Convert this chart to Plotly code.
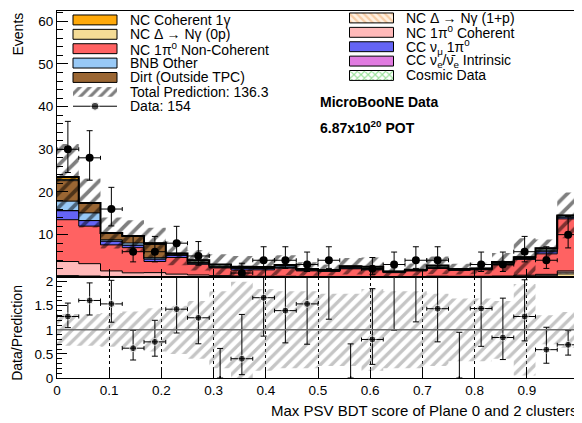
import plotly.graph_objects as go
from plotly.subplots import make_subplots

# 24 bins of the BDT score
n_bins = 24
edges = [i / n_bins for i in range(n_bins + 1)]
centers = [(edges[i] + edges[i + 1]) / 2 for i in range(n_bins)]
half_w = [0.5 / n_bins] * n_bins

# stacked MC components (events per bin), bottom to top
nc_delta_0p = [0.25, 0.2, 0.15, 0.1, 0.1, 0.05, 0.05, 0.05, 0, 0, 0, 0,
               0, 0, 0, 0, 0.04, 0.08, 0.09, 0.1, 0.1, 0.2, 0.3, 0.8]
nc_delta_1p = [0.15, 0.1, 0.05, 0.05, 0, 0, 0, 0, 0, 0, 0, 0,
               0, 0, 0, 0, 0, 0, 0, 0, 0, 0.1, 0.2, 0.4]
nc_pi0_coh = [3.3, 2.9, 1.3, 0.9, 1.0, 0.7, 0.5, 0.35, 0.3, 0.25, 0.25, 0.2,
              0.2, 0.2, 0.15, 0.15, 0.15, 0.2, 0.15, 0.15, 0.2, 0.2, 0.2, 0.3]
nc_pi0_noncoh = [9.8, 8.8, 6.1, 5.9, 2.6, 3.9, 2.5, 1.8, 1.4, 1.5, 1.9, 1.3,
                 1.2, 1.8, 1.6, 0.95, 1.3, 1.8, 1.4, 1.5, 2.6, 3.7, 4.8, 12.2]
cc_numu_pi0 = [2.1, 1.3, 0.9, 0.6, 0.6, 0.5, 0.25, 0.15, 0.4, 0.3, 0.2, 0.15,
               0, 0.2, 0.15, 0.1, 0.1, 0.15, 0.1, 0.13, 0.2, 0.2, 0.5, 0.4]
cc_nue = [0.05, 0, 0, 0, 0, 0, 0, 0, 0, 0, 0, 0,
          0, 0, 0, 0, 0, 0, 0, 0, 0, 0, 0, 0]
bnb_other = [2.2, 1.8, 0.3, 0.5, 0.3, 0.25, 0.2, 0.2, 0.2, 0.2, 0.3, 0.3,
             0.31, 0.2, 0.2, 0.18, 0.2, 0.2, 0.2, 0.2, 0.2, 0.3, 0.4, 0.4]
dirt = [4.8, 2.3, 1.6, 1.6, 3.1, 0.2, 0.1, 0.05, 0, 0, 0.21, 0,
        0, 0, 0, 0, 0, 0, 0, 0, 0, 0, 0, 0]
cosmic = [0.3, 0, 0, 0.05, 0.3, 0, 0.4, 0.4, 0.2, 0.15, 0, 0,
          0, 0.2, 0.4, 0, 0, 0.35, 0, 0, 0.27, 0, 0.4, 0]
nc_coh_1g = [0.55, 0, 0, 0, 0, 0, 0, 0, 0, 0, 0, 0,
             0, 0, 0, 0, 0, 0, 0, 0, 0, 0, 0, 0]

# relative uncertainty of the total prediction
mc_rel_err = [0.33, 0.33, 0.35, 0.38, 0.45, 0.5, 0.6, 0.8, 1.0, 0.85, 0.8, 0.8,
              0.75, 0.75, 0.85, 0.8, 0.8, 0.75, 0.65, 0.65, 0.6, 0.95, 0.3, 0.37]

# observed data counts
data = [30, 28, 16, 6, 6, 8, 5, 0, 1, 4, 4, 3,
        4, 0, 2, 3, 4, 4, 0, 3, 3, 6, 4, 10]

# Garwood 68% Poisson intervals (down, up)
poisson = {0: (0.0, 1.841), 1: (0.827, 2.299), 2: (1.292, 2.638), 3: (1.633, 2.918),
           4: (1.914, 3.162), 5: (2.159, 3.382), 6: (2.379, 3.583), 8: (2.768, 3.945),
           10: (3.108, 4.266), 16: (3.957, 5.083), 28: (5.246, 6.354), 30: (5.437, 6.543)}

FONT = "Liberation Sans"

stack = [
    (nc_delta_0p, "#F5DC96", None),
    (nc_delta_1p, "#FFF1E2", dict(shape="\\", fgcolor="#F0A868", bgcolor="#FFF1E2", size=5, solidity=0.45)),
    (nc_pi0_coh, "#FFB9B9", None),
    (nc_pi0_noncoh, "#FF6262", None),
    (cc_numu_pi0, "#6464F5", None),
    (cc_nue, "#E07BE0", None),
    (bnb_other, "#98C9F6", None),
    (dirt, "#9A6633", None),
    (cosmic, "#FFFFFF", dict(shape="x", fgcolor="#33C433", bgcolor="#FFFFFF", size=5, solidity=0.4)),
    (nc_coh_1g, "#FFA90A", None),
]

fig = make_subplots(rows=2, cols=1, shared_xaxes=True, vertical_spacing=0)

cum = [0.0] * n_bins
for i, (vals, color, pattern) in enumerate(stack):
    cum = [c + v for c, v in zip(cum, vals)]
    kw = dict(fillpattern=pattern) if pattern else {}
    fig.add_trace(go.Scatter(
        x=edges, y=cum + [cum[-1]], mode="lines",
        line=dict(color="black", width=1, shape="hv"),
        fill="tozeroy" if i == 0 else "tonexty", fillcolor=color,
        showlegend=False, hoverinfo="skip", **kw), row=1, col=1)

total = cum
err = [t * r for t, r in zip(total, mc_rel_err)]
lo = [max(t - e, 0) for t, e in zip(total, err)]
hi = [t + e for t, e in zip(total, err)]
hatch_black = dict(shape="/", fgcolor="black", bgcolor="rgba(0,0,0,0)", size=10, solidity=0.38)
fig.add_trace(go.Scatter(x=edges, y=lo + [lo[-1]], mode="lines", line=dict(width=0, shape="hv"),
                         showlegend=False, hoverinfo="skip"), row=1, col=1)
fig.add_trace(go.Scatter(x=edges, y=hi + [hi[-1]], mode="lines", line=dict(width=0, shape="hv"),
                         fill="tonexty", fillcolor="rgba(0,0,0,0)", fillpattern=hatch_black,
                         showlegend=False, hoverinfo="skip"), row=1, col=1)
fig.add_trace(go.Scatter(x=edges, y=total + [total[-1]], mode="lines",
                         line=dict(color="black", width=2, shape="hv"),
                         showlegend=False, hoverinfo="skip"), row=1, col=1)

# data points (skip empty bins in the top panel)
dx = [c for c, d in zip(centers, data) if d > 0]
dy = [d for d in data if d > 0]
fig.add_trace(go.Scatter(
    x=dx, y=dy, mode="markers", marker=dict(color="black", size=8),
    error_x=dict(type="data", array=half_w[:len(dx)], color="black", thickness=1, width=2),
    error_y=dict(type="data", symmetric=False, array=[poisson[d][1] for d in dy],
                 arrayminus=[poisson[d][0] for d in dy], color="black", thickness=1, width=3),
    showlegend=False), row=1, col=1)

# ratio panel
rlo = [1 - r for r in mc_rel_err]
rhi = [1 + r for r in mc_rel_err]
hatch_grey = dict(shape="/", fgcolor="#8C8C8C", bgcolor="rgba(0,0,0,0)", size=8, solidity=0.42)
fig.add_trace(go.Scatter(x=edges, y=rlo + [rlo[-1]], mode="lines", line=dict(width=0, shape="hv"),
                         showlegend=False, hoverinfo="skip"), row=2, col=1)
fig.add_trace(go.Scatter(x=edges, y=rhi + [rhi[-1]], mode="lines", line=dict(width=0, shape="hv"),
                         fill="tonexty", fillcolor="rgba(0,0,0,0)", fillpattern=hatch_grey,
                         showlegend=False, hoverinfo="skip"), row=2, col=1)

ratio = [d / t for d, t in zip(data, total)]
r_up = [poisson[d][1] / t for d, t in zip(data, total)]
r_dn = [poisson[d][0] / t for d, t in zip(data, total)]
fig.add_trace(go.Scatter(
    x=centers, y=ratio, mode="markers",
    marker=dict(color="black", size=[7 if d > 0 else 0 for d in data]),
    error_x=dict(type="data", array=[h if d > 0 else 0 for h, d in zip(half_w, data)],
                 color="black", thickness=1, width=2),
    error_y=dict(type="data", symmetric=False, array=r_up, arrayminus=r_dn,
                 color="black", thickness=1, width=3),
    showlegend=False), row=2, col=1)
fig.add_shape(type="line", x0=0, x1=1, y0=1, y1=1, xref="x2", yref="y2",
              line=dict(color="#707070", width=1.5))

# legend drawn on an overlay axis measured in pixels from the plot's top-left
legend_left = [
    ("NC Coherent 1γ", "#FFA90A", None, 17),
    ("NC Δ → Nγ (0p)", "#F5DC96", None, 31.5),
    ("NC 1π<sup>0</sup> Non-Coherent", "#FF6262", None, 46),
    ("BNB Other", "#98C9F6", None, 60.5),
    ("Dirt (Outside TPC)", "#9A6633", None, 75),
]
legend_right = [
    ("NC Δ → Nγ (1+p)", "#FFF1E2", stack[1][2], 15),
    ("NC 1π<sup>0</sup> Coherent", "#FFB9B9", None, 29.5),
    ("CC ν<sub>μ</sub> 1π<sup>0</sup>", "#6464F5", None, 44),
    ("CC ν<sub>e</sub>/ν̄<sub>e</sub> Intrinsic", "#E07BE0", None, 58.5),
    ("Cosmic Data", "#FFFFFF", stack[8][2], 73),
]
for entries, bx, tx in ((legend_left, 95, 128), (legend_right, 371.5, 404)):
    for text, color, pattern, yc in entries:
        fig.add_trace(go.Bar(x=[bx], y=[10], base=[yc - 5], width=[44], xaxis="x3", yaxis="y3",
                             marker=dict(color=color, line=dict(color="black", width=1),
                                         pattern=pattern or {}),
                             showlegend=False, hoverinfo="skip"))
        fig.add_annotation(x=tx, y=yc, xref="x3", yref="y3", text=text, showarrow=False,
                           xanchor="left", yanchor="middle", font=dict(family=FONT, size=14, color="black"))

fig.add_trace(go.Bar(x=[95], y=[10], base=[84.5], width=[44], xaxis="x3", yaxis="y3",
                     marker=dict(color="rgba(0,0,0,0)", line=dict(width=0),
                                 pattern=dict(shape="/", fgcolor="black", bgcolor="rgba(0,0,0,0)",
                                              size=7, solidity=0.45)),
                     showlegend=False, hoverinfo="skip"))
fig.add_annotation(x=128, y=89.5, xref="x3", yref="y3", text="Total Prediction: 136.3", showarrow=False,
                   xanchor="left", yanchor="middle", font=dict(family=FONT, size=14, color="black"))
fig.add_trace(go.Scatter(x=[73, 95, 117], y=[104, 104, 104], xaxis="x3", yaxis="y3", mode="lines+markers",
                         line=dict(color="black", width=1),
                         marker=dict(color="black", size=[0, 8, 0]),
                         showlegend=False, hoverinfo="skip"))
fig.add_annotation(x=128, y=104, xref="x3", yref="y3", text="Data: 154", showarrow=False,
                   xanchor="left", yanchor="middle", font=dict(family=FONT, size=14, color="black"))

fig.add_annotation(x=318, y=100, xref="x3", yref="y3", text="<b>MicroBooNE Data</b>", showarrow=False,
                   xanchor="left", yanchor="middle", font=dict(family=FONT, size=14, color="black"))
fig.add_annotation(x=318, y=125, xref="x3", yref="y3", text="<b>6.87x10<sup>20</sup> POT</b>",
                   showarrow=False, xanchor="left", yanchor="middle",
                   font=dict(family=FONT, size=14, color="black"))

# the page body adds an 8 px offset, so the figure is sized to the remaining window
W, H = 574, 415
ML, MR, MT, MB = 49, 3, 0, 45
PW, PH = W - ML - MR, H - MT - MB

# axis titles, ROOT style (aligned to the axis end)
fig.add_annotation(x=-40 / PW, y=1.0, xref="paper", yref="paper", text="Events", textangle=-90,
                   showarrow=False, xanchor="center", yanchor="top",
                   font=dict(family=FONT, size=14, color="black"))
fig.add_annotation(x=-40 / PW, y=(PH - 274) / PH, xref="paper", yref="paper", text="Data/Prediction",
                   textangle=-90, showarrow=False, xanchor="center", yanchor="top",
                   font=dict(family=FONT, size=14, color="black"))
fig.add_annotation(x=1.002, y=-33 / PH, xref="paper", yref="paper",
                   text="Max PSV BDT score of Plane 0 and 2 clusters", showarrow=False,
                   xanchor="right", yanchor="middle", font=dict(family=FONT, size=15, color="black"))

split = 101.5 / PH
axis_common = dict(showline=True, linecolor="black", linewidth=1, mirror=True, zeroline=False,
                   ticks="inside", tickcolor="black",
                   tickfont=dict(family=FONT, size=13.5, color="black"))
fig.update_layout(
    width=W, height=H,
    margin=dict(l=ML, r=MR, t=MT, b=MB),
    plot_bgcolor="white", paper_bgcolor="white",
    barmode="overlay",
    showlegend=False,
    xaxis=dict(range=[0, 1], dtick=0.1, tick0=0, ticklen=8, showticklabels=False, showgrid=False,
               **axis_common),
    yaxis=dict(domain=[split, 1], range=[0, 62.4], tickvals=[10, 20, 30, 40, 50, 60], ticklen=11,
               showgrid=False,
               minor=dict(ticks="inside", ticklen=6, tickmode="linear", tick0=0, dtick=2,
                          tickcolor="black", showgrid=False),
               **axis_common),
    xaxis2=dict(range=[0, 1], dtick=0.1, tick0=0, ticklen=8, showgrid=True, gridcolor="black",
                griddash="dot", gridwidth=1, **axis_common),
    yaxis2=dict(domain=[0, split], range=[0, 2.09], tickvals=[0, 0.5, 1, 1.5, 2],
                ticktext=["0", "0.5", "1", "1.5", "2"], ticklen=10, showgrid=False,
                minor=dict(ticks="inside", ticklen=5, tickmode="linear", tick0=0, dtick=0.1,
                           tickcolor="black", showgrid=False),
                **axis_common),
    xaxis3=dict(overlaying="x", range=[57, 579], visible=False, anchor="y3"),
    yaxis3=dict(overlaying="y", range=[276.5, 8], visible=False, anchor="x3"),
)

fig.write_html("out.html")
